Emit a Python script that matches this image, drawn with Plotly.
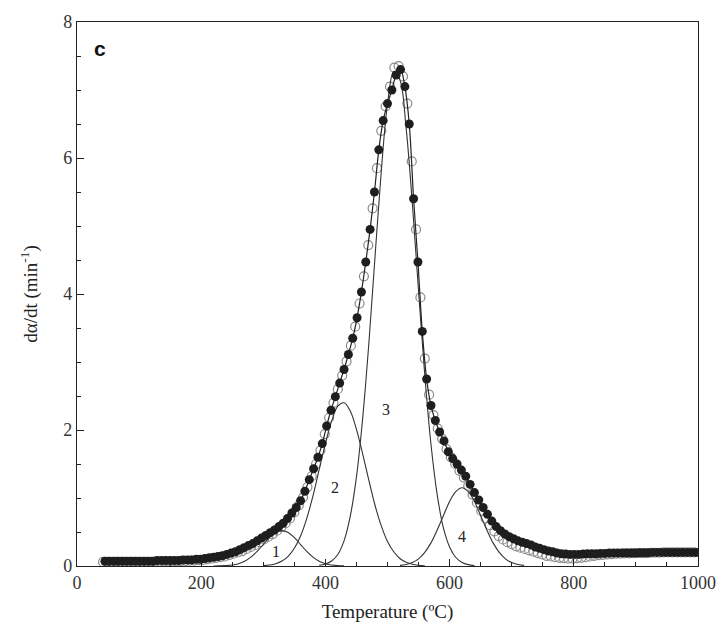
import plotly.graph_objects as go

# Experimental points (filled circles)
temp_filled = [45, 52, 59, 66, 73, 80, 87, 94, 101, 108,
               115, 122, 129, 136, 143, 150, 157, 164, 171, 178,
               185, 192, 199, 206, 213, 220, 227, 234, 241, 248,
               255, 262, 269, 276, 283, 290, 297, 304, 311, 318,
               325, 332, 339, 346, 353, 360, 367, 374, 381, 388,
               395, 402, 409, 416, 423, 430, 437, 444, 451, 458,
               465, 472, 479, 486, 493, 500, 507, 514, 521, 528,
               535, 542, 549, 556, 563, 570, 577, 584, 591, 598,
               605, 612, 619, 626, 633, 640, 647, 654, 661, 668,
               675, 682, 689, 696, 703, 710, 717, 724, 731, 738,
               745, 752, 759, 766, 773, 780, 787, 794, 801, 808,
               815, 822, 829, 836, 843, 850, 857, 864, 871, 878,
               885, 892, 899, 906, 913, 920, 927, 934, 941, 948,
               955, 962, 969, 976, 983, 990, 997]
rate_filled = [0.07, 0.07, 0.07, 0.07, 0.07, 0.07, 0.07, 0.07, 0.07, 0.07,
               0.07, 0.07, 0.08, 0.08, 0.08, 0.08, 0.08, 0.08, 0.09, 0.09,
               0.09, 0.10, 0.10, 0.11, 0.12, 0.13, 0.14, 0.15, 0.17, 0.19,
               0.21, 0.24, 0.27, 0.30, 0.33, 0.37, 0.41, 0.45, 0.49, 0.53,
               0.58, 0.63, 0.70, 0.78, 0.86, 0.96, 1.10, 1.27, 1.43, 1.60,
               1.80, 2.06, 2.29, 2.49, 2.69, 2.89, 3.11, 3.35, 3.65, 4.03,
               4.47, 4.95, 5.50, 6.12, 6.55, 6.80, 7.00, 7.22, 7.30, 7.05,
               6.50, 5.40, 4.47, 3.45, 2.75, 2.36, 2.14, 1.97, 1.84, 1.68,
               1.58, 1.50, 1.41, 1.32, 1.20, 1.08, 0.97, 0.86, 0.76, 0.66,
               0.58, 0.52, 0.47, 0.43, 0.40, 0.37, 0.35, 0.33, 0.31, 0.28,
               0.26, 0.24, 0.22, 0.21, 0.19, 0.18, 0.175, 0.17, 0.17, 0.17,
               0.175, 0.18, 0.18, 0.18, 0.185, 0.185, 0.19, 0.19, 0.19, 0.19,
               0.19, 0.19, 0.19, 0.195, 0.195, 0.195, 0.2, 0.2, 0.2, 0.2,
               0.2, 0.2, 0.2, 0.2, 0.2, 0.2, 0.2]

# Second experimental set (open circles)
temp_open = [42, 49, 56, 63, 70, 77, 84, 91, 98, 105,
             112, 119, 126, 133, 140, 147, 154, 161, 168, 175,
             182, 189, 196, 203, 210, 217, 224, 231, 238, 245,
             252, 259, 266, 273, 280, 287, 294, 301, 308, 315,
             322, 329, 336, 343, 350, 357, 364, 371, 378, 385,
             392, 399, 406, 413, 420, 427, 434, 441, 448, 455,
             462, 469, 476, 483, 490, 497, 504, 511, 518, 525,
             532, 539, 546, 553, 560, 567, 574, 581, 588, 595,
             602, 609, 616, 623, 630, 637, 644, 651, 658, 665,
             672, 679, 686, 693, 700, 707, 714, 721, 728, 735,
             742, 749, 756, 763, 770, 777, 784, 791, 798, 805,
             812, 819, 826, 833, 840, 847, 854, 861, 868, 875,
             882, 889, 896, 903, 910, 917, 924, 931, 938, 945,
             952, 959, 966, 973, 980, 987, 994]
rate_open = [0.06, 0.06, 0.06, 0.06, 0.06, 0.06, 0.06, 0.06, 0.06, 0.06,
             0.06, 0.06, 0.065, 0.065, 0.07, 0.07, 0.07, 0.07, 0.075, 0.075,
             0.08, 0.08, 0.085, 0.09, 0.10, 0.11, 0.12, 0.13, 0.14, 0.16,
             0.18, 0.20, 0.22, 0.25, 0.28, 0.31, 0.35, 0.39, 0.43, 0.47,
             0.52, 0.57, 0.63, 0.70, 0.79, 0.89, 1.01, 1.16, 1.32, 1.50,
             1.70, 1.94, 2.18, 2.40, 2.60, 2.80, 3.01, 3.24, 3.52, 3.86,
             4.26, 4.72, 5.26, 5.85, 6.40, 6.76, 7.05, 7.33, 7.35, 7.20,
             6.80, 5.95, 4.95, 3.95, 3.05, 2.52, 2.22, 2.02, 1.87, 1.72,
             1.60, 1.50, 1.40, 1.30, 1.18, 1.05, 0.93, 0.81, 0.70, 0.60,
             0.51, 0.44, 0.39, 0.35, 0.32, 0.29, 0.27, 0.25, 0.23, 0.21,
             0.19, 0.17, 0.15, 0.14, 0.13, 0.12, 0.115, 0.11, 0.11, 0.115,
             0.12, 0.13, 0.14, 0.15, 0.16, 0.165, 0.17, 0.175, 0.18, 0.18,
             0.185, 0.185, 0.19, 0.19, 0.19, 0.19, 0.195, 0.195, 0.195, 0.2,
             0.2, 0.2, 0.2, 0.2, 0.2, 0.2, 0.2]

# Deconvoluted peaks 1-4
temp_p1 = [220, 230, 240, 250, 260, 270, 280, 290, 300, 310, 320, 330,
           340, 350, 360, 370, 380, 390, 400, 410, 420, 430]
rate_p1 = [0.0, 0.002, 0.006, 0.015, 0.034, 0.070, 0.13, 0.214, 0.316, 0.417, 0.492, 0.52,
           0.492, 0.417, 0.316, 0.214, 0.13, 0.07, 0.034, 0.015, 0.006, 0.002]

temp_p2 = [300, 310, 320, 330, 340, 350, 360, 370, 380, 390,
           400, 410, 420, 430, 440, 450, 460, 470, 480, 490,
           500, 510, 520, 530, 540, 550, 560]
rate_p2 = [0.006, 0.015, 0.034, 0.072, 0.142, 0.26, 0.44, 0.70, 1.03, 1.42,
           1.80, 2.13, 2.35, 2.40, 2.28, 2.01, 1.65, 1.26, 0.89, 0.59,
           0.36, 0.21, 0.11, 0.054, 0.025, 0.011, 0.004]

temp_p3 = [390, 400, 410, 420, 430, 440, 450, 460, 470, 480,
           490, 500, 510, 520, 530, 540, 550, 560, 570, 580,
           590, 600, 610, 620, 630, 640]
rate_p3 = [0.011, 0.029, 0.074, 0.17, 0.37, 0.73, 1.31, 2.17, 3.28, 4.56,
           5.81, 6.79, 7.27, 7.15, 6.44, 5.33, 4.04, 2.81, 1.79, 1.05,
           0.56, 0.28, 0.125, 0.052, 0.02, 0.007]

temp_p4 = [520, 530, 540, 550, 560, 570, 580, 590, 600, 610, 620,
           630, 640, 650, 660, 670, 680, 690, 700, 710, 720]
rate_p4 = [0.009, 0.022, 0.05, 0.105, 0.20, 0.34, 0.53, 0.74, 0.95, 1.095, 1.15,
           1.095, 0.95, 0.74, 0.53, 0.34, 0.20, 0.105, 0.05, 0.022, 0.009]

peak_labels = ["1", "2", "3", "4"]
peak_label_x = [321, 415, 497, 620]
peak_label_y = [0.21, 1.16, 2.30, 0.43]

x_ticks = [0, 200, 400, 600, 800, 1000]
y_ticks = [0, 2, 4, 6, 8]

SERIF = "Liberation Serif, Times New Roman, serif"

fig = go.Figure()

fig.add_trace(go.Scatter(
    x=temp_open, y=rate_open, mode="markers",
    marker=dict(symbol="circle-open", size=9, color="#8a8a8a", line=dict(width=1.2, color="#8a8a8a")),
    showlegend=False, hoverinfo="skip"))

for tx, ty in [(temp_p1, rate_p1), (temp_p2, rate_p2), (temp_p3, rate_p3), (temp_p4, rate_p4)]:
    fig.add_trace(go.Scatter(
        x=tx, y=ty, mode="lines", line=dict(color="#333333", width=1.1, shape="spline"),
        showlegend=False, hoverinfo="skip"))

fig.add_trace(go.Scatter(
    x=temp_filled, y=rate_filled, mode="lines+markers",
    line=dict(color="#222222", width=1.2, shape="spline"),
    marker=dict(symbol="circle", size=9, color="#1e1e1e"),
    showlegend=False, hoverinfo="skip"))

for lab, lx, ly in zip(peak_labels, peak_label_x, peak_label_y):
    fig.add_annotation(x=lx, y=ly, text=lab, showarrow=False,
                       font=dict(family=SERIF, size=16, color="#222222"))

fig.add_annotation(x=0.037, y=0.951, xref="paper", yref="paper", text="<b>c</b>",
                   xanchor="center", yanchor="middle",
                   showarrow=False, font=dict(family="Liberation Sans, Arial, sans-serif", size=21, color="#111111"))

axis_common = dict(
    showline=True, linecolor="#222222", linewidth=1.2, mirror=True,
    ticks="inside", tickcolor="#222222", ticklen=7, tickwidth=1,
    showgrid=False, zeroline=False,
    tickfont=dict(family=SERIF, size=18, color="#333333"),
)

fig.update_xaxes(range=[0, 1000], tickvals=x_ticks,
                 minor=dict(ticks="inside", ticklen=4, dtick=50, tick0=0, tickcolor="#222222"),
                 title=dict(text="Temperature (ºC)", font=dict(family=SERIF, size=19, color="#222222"), standoff=12),
                 **axis_common)
fig.update_yaxes(range=[0, 8], tickvals=y_ticks,
                 minor=dict(ticks="inside", ticklen=4, dtick=0.5, tick0=0, tickcolor="#222222"),
                 title=dict(text="dα/dt (min<sup>-1</sup>)", font=dict(family=SERIF, size=19, color="#222222"), standoff=20),
                 **axis_common)

fig.update_layout(
    width=728, height=637,
    margin=dict(l=77, r=25, t=18, b=71),
    paper_bgcolor="white", plot_bgcolor="white",
)

fig.write_html("out.html")
